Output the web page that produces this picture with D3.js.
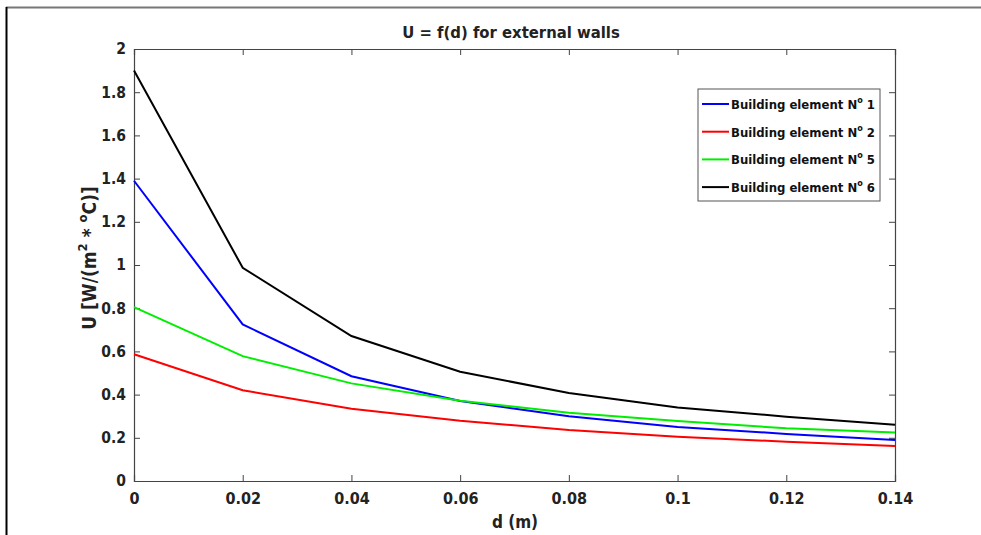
<!DOCTYPE html>
<meta charset="utf-8">
<style>
  body { margin: 0; background: #fff; }
  text { font-family: "DejaVu Sans Condensed", "Liberation Sans Narrow", "Liberation Sans", sans-serif; font-weight: bold; }
</style>
<script src="https://d3js.org/d3.v7.min.js"></script>
<div id="chart"></div>
<script>
// data
var dValues = [0, 0.02, 0.04, 0.06, 0.08, 0.1, 0.12, 0.14];
var element1 = [1.39, 0.725, 0.485, 0.37, 0.30, 0.25, 0.218, 0.19];
var element2 = [0.587, 0.42, 0.335, 0.279, 0.236, 0.205, 0.182, 0.162];
var element5 = [0.805, 0.578, 0.452, 0.372, 0.316, 0.278, 0.244, 0.224];
var element6 = [1.90, 0.987, 0.671, 0.506, 0.407, 0.34, 0.298, 0.26];
var seriesNames = ["Building element N", "Building element N", "Building element N", "Building element N"];
var seriesNums = ["1", "2", "5", "6"];
var seriesColors = ["#0000ff", "#ff0000", "#00ee00", "#000000"];
var xTicks = [0, 0.02, 0.04, 0.06, 0.08, 0.1, 0.12, 0.14];
var yTicks = [0, 0.2, 0.4, 0.6, 0.8, 1, 1.2, 1.4, 1.6, 1.8, 2];

var allSeries = [element1, element2, element5, element6];

var W = 981, H = 535;
var margin = {top: 49, right: 86, bottom: 54, left: 134};
var width = W - margin.left - margin.right,
    height = H - margin.top - margin.bottom;

var svg = d3.select("#chart").append("svg")
    .attr("width", W)
    .attr("height", H);

// outer picture frame
svg.append("line").attr("x1", 6).attr("x2", W).attr("y1", 7.5).attr("y2", 7.5)
  .attr("stroke", "#777").attr("stroke-width", 2);
svg.append("line").attr("x1", 6.5).attr("x2", 6.5).attr("y1", 7).attr("y2", H)
  .attr("stroke", "#000").attr("stroke-width", 2);

var g = svg.append("g")
    .attr("transform", "translate(" + margin.left + "," + margin.top + ")");

var x = d3.scaleLinear().domain([0, 0.14]).range([0, width]);
var y = d3.scaleLinear().domain([0, 2]).range([height, 0]);

var axisColor = "#444";
var fmt = function(d) { return d3.format("")(+d.toFixed(2)); };

// bottom axis, ticks pointing inward
var xb = g.append("g")
  .attr("transform", "translate(0," + height + ")")
  .call(d3.axisBottom(x).tickValues(xTicks).tickSize(-6).tickPadding(12).tickFormat(fmt));
// top axis
var xt = g.append("g")
  .call(d3.axisTop(x).tickValues(xTicks).tickSize(-6).tickFormat(""));
// left axis
var yl = g.append("g")
  .call(d3.axisLeft(y).tickValues(yTicks).tickSize(-6).tickPadding(8).tickFormat(fmt));
// right axis
var yr = g.append("g")
  .attr("transform", "translate(" + width + ",0)")
  .call(d3.axisRight(y).tickValues(yTicks).tickSize(-6).tickFormat(""));

[xb, xt, yl, yr].forEach(function(a) {
  a.select(".domain").attr("stroke", axisColor).attr("stroke-width", 1.2);
  a.selectAll(".tick line").attr("stroke", axisColor);
  a.selectAll("text").attr("fill", "#222").style("font-size", "16px");
});
yl.selectAll("text").style("font-size", "15.5px");

// lines
var line = d3.line()
  .x(function(d, i) { return x(dValues[i]); })
  .y(function(d) { return y(d); });

allSeries.forEach(function(s, i) {
  g.append("path")
    .datum(s)
    .attr("fill", "none")
    .attr("stroke", seriesColors[i])
    .attr("stroke-width", 2)
    .attr("d", line);
});

// title
svg.append("text")
  .attr("x", 511).attr("y", 38)
  .attr("text-anchor", "middle")
  .style("font-size", "16.5px")
  .attr("fill", "#222")
  .text("U = f(d) for external walls");

// x label
svg.append("text")
  .attr("x", 515).attr("y", 528)
  .attr("text-anchor", "middle")
  .style("font-size", "17px")
  .attr("fill", "#222")
  .text("d (m)");

// y label with superscripts
var yLab = svg.append("text")
  .attr("transform", "translate(96,258) rotate(-90)")
  .attr("text-anchor", "middle")
  .style("font-size", "19px")
  .attr("fill", "#222");
yLab.append("tspan").text("U [W/(m");
yLab.append("tspan").attr("dy", -9).style("font-size", "13px").text("2");
yLab.append("tspan").attr("dy", 9).text(" * ");
yLab.append("tspan").attr("dy", -9).style("font-size", "13px").text("o");
yLab.append("tspan").attr("dy", 9).text("C)]");

// legend
var leg = svg.append("g").attr("transform", "translate(698,89)");
leg.append("rect")
  .attr("width", 182).attr("height", 112)
  .attr("fill", "#fff").attr("stroke", "#555").attr("stroke-width", 1);

seriesNums.forEach(function(n, i) {
  var ly = 15 + i * 27.7;
  leg.append("line")
    .attr("x1", 4).attr("x2", 31).attr("y1", ly).attr("y2", ly)
    .attr("stroke", seriesColors[i]).attr("stroke-width", 2);
  var t = leg.append("text")
    .attr("x", 33).attr("y", ly + 5)
    .style("font-size", "13px")
    .attr("fill", "#111");
  t.append("tspan").text(seriesNames[i]);
  t.append("tspan").attr("dy", -6).style("font-size", "9px").text("o");
  t.append("tspan").attr("dy", 6).text(" " + n);
});
</script>
